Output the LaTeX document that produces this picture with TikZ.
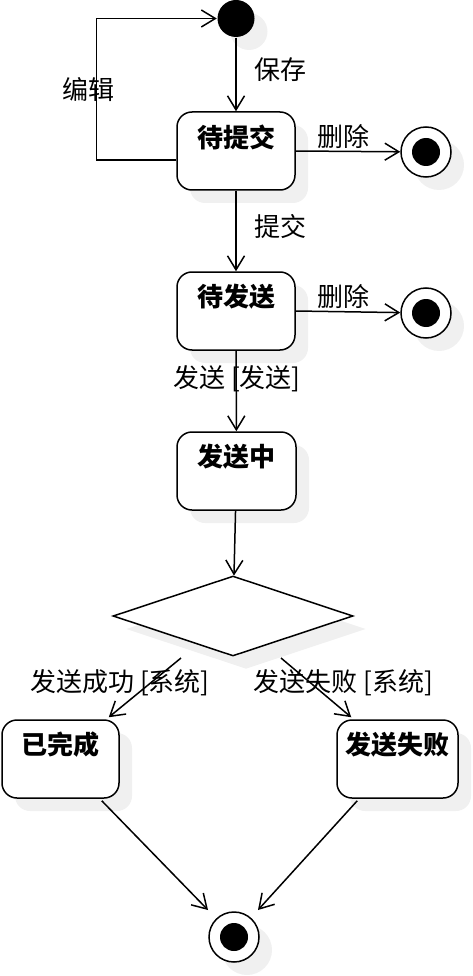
\documentclass[tikz,border=0pt]{standalone}
\usepackage{fontspec}
\setmainfont{Noto Sans CJK SC}
\usetikzlibrary{arrows.meta, shapes.geometric}

\tikzset{
  soft shadow/.style={preaction={fill=black!6, draw=none, transform canvas={xshift=13pt, yshift=-13pt}}},
  state/.style={draw, fill=white, rounded corners=15pt, minimum height=78pt, inner sep=0pt, soft shadow},
  boxtitle/.style={font=\fontsize{26}{30}\selectfont\bfseries, yshift=14pt},
  init/.style={circle, fill=black, minimum size=37pt, inner sep=0pt, soft shadow},
  final/.style={circle, draw, fill=white, minimum size=50pt, inner sep=0pt, soft shadow,
    path picture={\fill[black] (path picture bounding box.center) circle (14pt);}},
}

\begin{document}
\begin{tikzpicture}[x=1pt, y=1pt, line width=1.5pt, font=\fontsize{26}{30}\selectfont,
    >={Straight Barb[length=14pt, width=17pt]}]
            \useasboundingbox (0,0) rectangle (473,-976);

            \node[init] (start) at (236,-18.5) {};
            \node[state, minimum width=118pt, label={[boxtitle]center:待提交}] (draft) at (236,-151) {};
            \node[state, minimum width=118pt, label={[boxtitle]center:待发送}] (pending) at (236,-311) {};
            \node[state, minimum width=119pt, label={[boxtitle]center:发送中}] (sending) at (236.5,-471) {};
            \node[diamond, draw, fill=white, minimum width=240pt, minimum height=80pt, inner sep=0pt, soft shadow] (choice) at (233,-616) {};
            \node[state, minimum width=117pt, label={[boxtitle]center:已完成}] (done) at (60.5,-759) {};
            \node[state, minimum width=121pt, label={[boxtitle]center:发送失败}] (failed) at (397.5,-759) {};
            \node[final] (end1) at (426,-152) {};
            \node[final] (end2) at (426,-313) {};
            \node[final] (end3) at (234,-937) {};

            \node (save) at (280,-70) {保存};
            \node (edit) at (88,-90) {编辑};
            \node (del1) at (343,-137) {删除};
            \node (submit) at (280,-227) {提交};
            \node (del2) at (343,-297) {删除};
            \node (send) at (237,-379) {发送 [发送]};
            \node (ok) at (120,-683) {发送成功 [系统]};
            \node (fail) at (343.5,-683) {发送失败 [系统]};

            \draw[->] (start) -- (draft);
            \draw[->] ([yshift=-9pt]draft.west) -- ++(-80,0) |- (start);
            \draw[->] (draft.east) -- (end1);
            \draw[->] (draft) -- (pending);
            \draw[->] (pending.east) -- (end2);
            \draw[->] (pending) -- (sending);
            \draw[->] (sending) -- (choice);
            \draw[->] ([shift={(-52,-42)}]choice.center) -- ([shift={(-11,2)}]done.north east);
            \draw[->] ([shift={(48,-42)}]choice.center) -- ([shift={(15,2)}]failed.north west);
            \draw[->] ([shift={(-18,-2)}]done.south east) -- ([shift={(-26,27)}]end3.center);
            \draw[->] ([shift={(21,-2)}]failed.south west) -- ([shift={(24,27)}]end3.center);
        \end{tikzpicture}
\end{document}
